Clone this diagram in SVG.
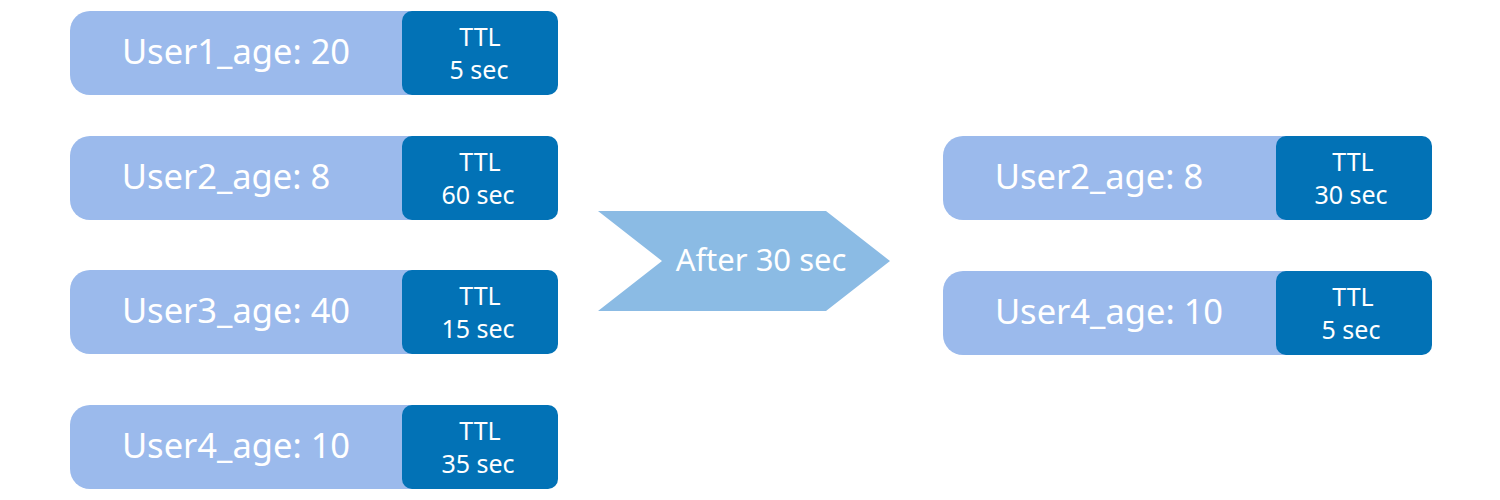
<svg xmlns="http://www.w3.org/2000/svg" width="1500" height="500" viewBox="0 0 1500 500">
<style>
.lt{fill:#9BBAEC}
.dk{fill:#0272B6}
.nm{font-family:"Noto Sans","Open Sans",sans-serif;font-size:34.5px;fill:#fff;text-anchor:middle}
.ttl{font-family:"Noto Sans","Open Sans",sans-serif;font-size:25px;fill:#fff;text-anchor:middle}
</style>
<rect width="1500" height="500" fill="#fff"/>
<g id="n1">
<rect class="lt" x="70" y="11" width="488" height="84" rx="20"/>
<rect class="dk" x="402" y="11" width="156" height="84" rx="10"/>
<text class="nm" x="236" y="64">User1_age: 20</text>
<text class="ttl" x="480" y="46">TTL</text>
<text class="ttl" x="479" y="79">5 sec</text>
</g>
<g id="n2">
<rect class="lt" x="70" y="136" width="488" height="84" rx="20"/>
<rect class="dk" x="402" y="136" width="156" height="84" rx="10"/>
<text class="nm" x="226" y="189">User2_age: 8</text>
<text class="ttl" x="480" y="171">TTL</text>
<text class="ttl" x="478" y="204">60 sec</text>
</g>
<g id="n3">
<rect class="lt" x="70" y="270" width="488" height="84" rx="20"/>
<rect class="dk" x="402" y="270" width="156" height="84" rx="10"/>
<text class="nm" x="236" y="323">User3_age: 40</text>
<text class="ttl" x="480" y="305">TTL</text>
<text class="ttl" x="478" y="338">15 sec</text>
</g>
<g id="n4">
<rect class="lt" x="70" y="405" width="488" height="84" rx="20"/>
<rect class="dk" x="402" y="405" width="156" height="84" rx="10"/>
<text class="nm" x="236" y="458">User4_age: 10</text>
<text class="ttl" x="480" y="440">TTL</text>
<text class="ttl" x="478" y="473">35 sec</text>
</g>
<g id="arrow">
<polygon points="598,211 826,211 890,261 826,311 598,311 662,261" fill="#8BBBE4"/>
<text class="ttl" x="761" y="271" style="font-size:31px">After 30 sec</text>
</g>
<g id="r2">
<rect class="lt" x="943" y="136" width="489" height="84" rx="20"/>
<rect class="dk" x="1276" y="136" width="156" height="84" rx="10"/>
<text class="nm" x="1099" y="189">User2_age: 8</text>
<text class="ttl" x="1353" y="171">TTL</text>
<text class="ttl" x="1351" y="204">30 sec</text>
</g>
<g id="r4">
<rect class="lt" x="943" y="271" width="489" height="84" rx="20"/>
<rect class="dk" x="1276" y="271" width="156" height="84" rx="10"/>
<text class="nm" x="1109" y="324">User4_age: 10</text>
<text class="ttl" x="1353" y="306">TTL</text>
<text class="ttl" x="1351" y="339">5 sec</text>
</g>
<g id="connectors"></g>
</svg>
